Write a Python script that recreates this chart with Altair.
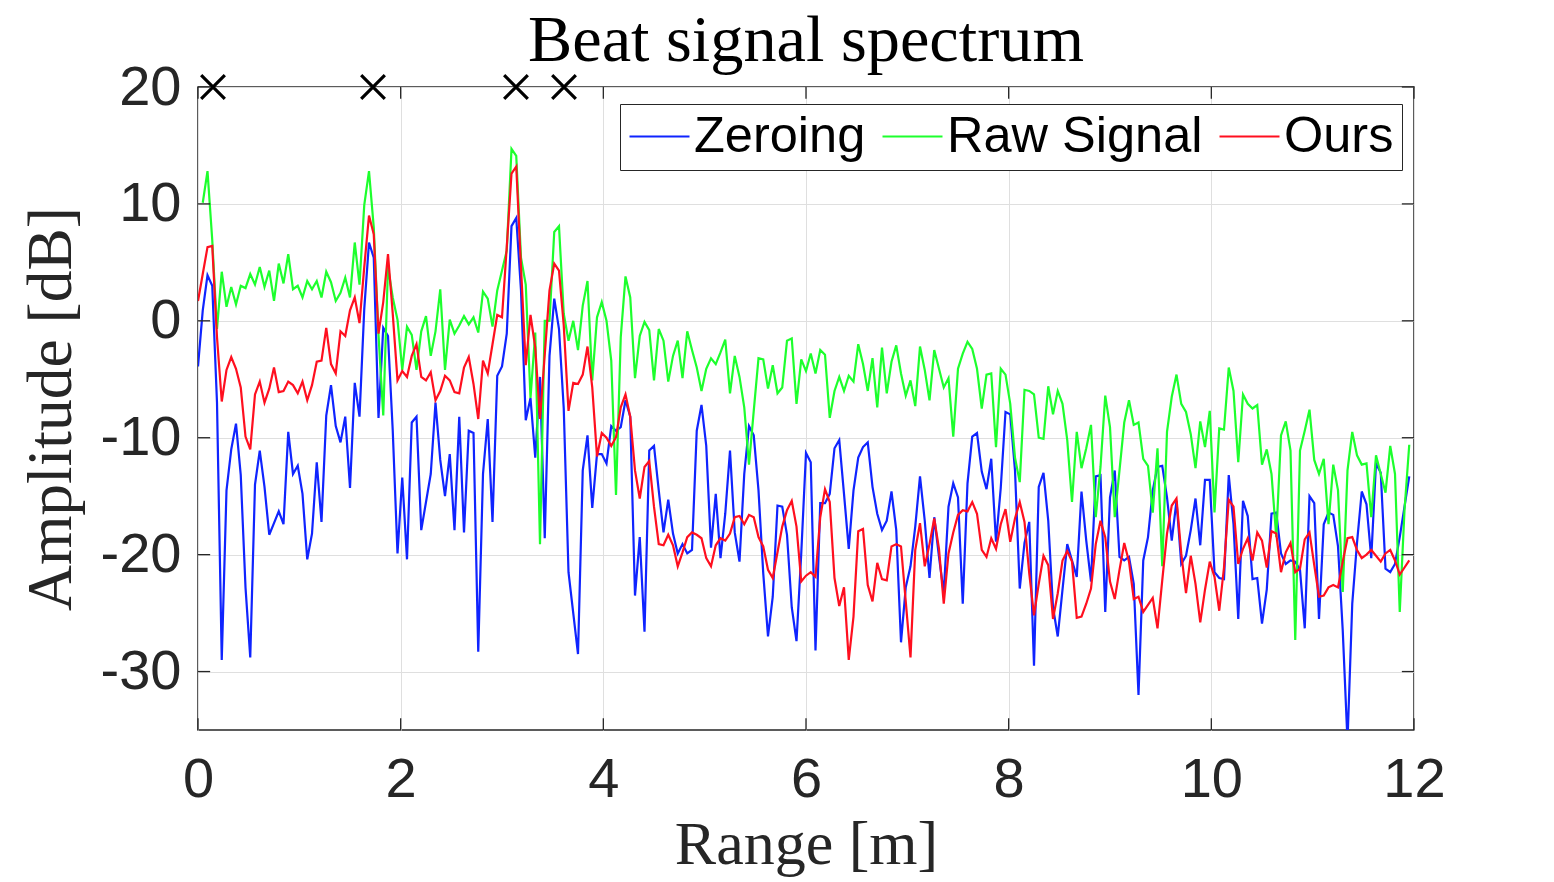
import altair as alt
import pandas as pd

zeroing = [
    -3.9, 0.9, 3.9, 3.0, -7, -29, -14.5, -11, -8.8, -13.2,
    -22.8, -28.8, -14, -11.1, -14.2, -18.3, -17.3, -16.3, -17.4, -9.5,
    -13.1, -12.4, -14.8, -20.4, -18.2, -12.1, -17.2, -8.1, -5.5, -9,
    -10.4, -8.2, -14.3, -5.3, -8.2, 1, 6.7, 5.4, -8.3, -0.6,
    -1.3, -9.4, -19.9, -13.4, -20.4, -8.7, -8.2, -17.9, -15.5, -13.1,
    -7, -11.9, -15, -11.4, -17.9, -8.2, -18.1, -9.4, -9.6, -28.3,
    -13.1, -8.4, -17.2, -4.7, -3.9, -1.1, 8.1, 8.8, 2.6, -8.5,
    -6.6, -11.7, -4.8, -18.6, -3, 1.9, -0.7, -7.5, -21.5, -25,
    -28.5, -12.8, -9.8, -16, -11.4, -11.4, -12.2, -9, -9.4, -9.1,
    -6.8, -8.2, -23.5, -18.5, -26.6, -11.1, -10.7, -14.5, -18.1, -15.3,
    -18.2, -19.9, -19.1, -19.9, -19.6, -9.4, -7.2, -10.7, -19.4, -14.8,
    -20.3, -16.5, -11.1, -18.1, -20.6, -13.1, -9, -9.8, -14.5, -21.6,
    -27, -23.6, -15.8, -15.9, -18.3, -24.5, -27.4, -19.9, -11.3, -12.1,
    -28.2, -15.6, -15.6, -14.8, -10.9, -10.2, -14.8, -19.5, -14.5, -11.7,
    -10.8, -10.4, -14.2, -16.5, -17.9, -17.1, -14.6, -17.9, -27.5, -22.8,
    -21, -17.6, -13.3, -17.1, -22, -16.8, -20.2, -23.3, -15.9, -13.9,
    -15.1, -24.2, -13.9, -9.9, -9.6, -12.9, -14.4, -11.8, -18.9, -14.3,
    -7.8, -8, -12.8, -22.9, -19, -17.2, -29.5, -14.2, -13, -17.1,
    -24.5, -27, -23, -19.1, -20.5, -21.9, -14.6, -18.8, -22.3, -13.3,
    -13.2, -24.9, -15.1, -12.8, -20.2, -20.5, -20.2, -22.5, -32, -20.5,
    -18.5, -14.5, -12.5, -12.4, -15.1, -18.8, -15.4, -20.8, -20.1, -17.9,
    -15.2, -19.2, -13.6, -13.6, -21.5, -22, -22.1, -13.2, -17.4, -25.5,
    -15.4, -16.7, -22.1, -22, -25.9, -23, -16.5, -16.4, -19.9, -20.8,
    -20.5, -20.6, -21.3, -26.3, -15, -15.6, -25.5, -17.4, -16.4, -16.6,
    -19.3, -26.5, -36, -24.2, -19, -14.6, -15.7, -20.3, -12.2, -13,
    -21.2, -21.5, -20.8, -18.5, -15.9, -13.3,
]

# first bin of the raw signal is not drawn
raw_signal = [
    None, 10.1, 12.8, 6.9, -0.7, 4.2, 1.2, 2.9, 1.4, 3,
    2.8, 4, 3.1, 4.6, 2.9, 4.3, 1.7, 4.9, 3.2, 5.7,
    2.7, 3, 2, 3.4, 2.7, 3.4, 2, 4.2, 3.3, 1.7,
    2.4, 3.7, 2, 6.7, 3.1, 9.9, 12.8, 8, -1.2, -8.1,
    4.6, 2, 0.1, -4.2, -0.5, -1.2, -4.2, -0.9, 0.4, -3,
    -0.9, 2.7, -4.2, 0.1, -1.1, -0.4, 0.4, -0.3, 0.3, -1,
    2.5, 1.9, -0.5, 2.6, 4.3, 6, 14.7, 14.1, 5.4, 3.1,
    -6.6, -1, -19.1, 0, 0, 7.6, 8.1, 0.6, -1.7, 0,
    -2.5, 1.3, 3.4, -5.1, 0.3, 1.6, 0, -3.4, -14.9, -1.4,
    3.8, 2, -4.9, -1.3, -0.1, -0.8, -5.1, -0.7, -1.7, -5.2,
    -3, -1.7, -4.9, -0.9, -2.5, -4, -6, -4.1, -3.2, -3.7,
    -2.7, -1.6, -6.2, -3, -4.8, -7.4, -12.3, -7.7, -3.2, -3.3,
    -5.8, -3.8, -6.2, -5.7, -1.7, -1.5, -7.1, -3.3, -4.3, -2.8,
    -4.5, -2.5, -2.9, -8.3, -6, -4.8, -6, -4.7, -5.2, -2,
    -3.7, -6, -3.2, -7.4, -2.3, -6.2, -3.5, -2.1, -4.5, -6.4,
    -5.1, -7.3, -2.2, -4.2, -6.8, -2.5, -4.1, -5.7, -4.9, -9.9,
    -4.1, -2.8, -1.8, -2.4, -4.1, -7.5, -4.6, -4.5, -10.8, -4.1,
    -4.6, -7.1, -11.7, -13.8, -5.9, -6, -6.3, -10, -10.1, -5.6,
    -8, -6, -7.1, -10.2, -15.5, -9.5, -12.6, -10.9, -8.9, -16.8,
    -12.5, -6.4, -9.1, -16.8, -12.8, -8.7, -6.8, -8.9, -8.7, -11.8,
    -12.4, -16.4, -10.9, -21, -9.5, -6.5, -4.6, -7.1, -7.8, -9.7,
    -12.6, -8.6, -10.8, -7.7, -16.4, -9.2, -9.3, -4, -6, -12.1,
    -6.3, -7.1, -7.5, -7.2, -12.3, -11, -13.1, -18.5, -9.8, -8.6,
    -11.1, -27.3, -11.1, -9.4, -7.6, -11.9, -13.1, -11.8, -17.4, -12.3,
    -14.5, -23.2, -12.8, -9.5, -11.5, -12.3, -12.2, -16.8, -11.5, -13.1,
    -14.7, -10.7, -13.1, -24.9, -16.2, -10.6,
]

ours = [
    1.7, 4, 6.3, 6.4, -1.4, -6.9, -4.2, -3.1, -4.1, -5.7,
    -9.9, -11, -6.3, -5.2, -7, -5.8, -4, -6.1, -6, -5.2,
    -5.5, -6.2, -5.2, -6.8, -5.5, -3.5, -3.4, -0.6, -3.7, -4.5,
    -0.9, -1.3, 0.9, 2, -0.2, 4.6, 9, 7.4, -1.1, 1.6,
    5.7, 0.6, -5.1, -4.3, -4.8, -3, -2, -4.8, -5.1, -4.4,
    -6.8, -6, -4.7, -5.1, -6.1, -6.2, -4, -3.1, -5.4, -8.4,
    -3.4, -4.5, -2, 0.5, 0.3, 6.3, 12.6, 13.2, 4.6, -3.8,
    0.5, -2.3, -8.4, -2.9, 2.6, 4.9, 4.3, -0.4, -7.7, -5.3,
    -5.4, -4.6, -2.2, -5.7, -11.6, -9.6, -10, -10.7, -9.95, -7.4,
    -6.3, -8.2, -12.8, -15.2, -12.5, -12, -15.9, -19.1, -19.2, -18.3,
    -19.2, -21, -19.8, -18.5, -18.1, -18.3, -18.6, -20.3, -21, -19.2,
    -18.6, -18.8, -18.2, -16.8, -16.7, -17.4, -16.6, -16.8, -18.5, -19.3,
    -21.3, -22, -19.8, -17.6, -16.2, -15.4, -17.6, -22.3, -21.8, -21.5,
    -21.9, -16.8, -14.4, -15.5, -22, -24.4, -22.8, -29, -25.3, -18,
    -17.8, -22.6, -24, -20.7, -22.1, -22.2, -19.3, -19.1, -19.3, -24,
    -28.8, -19.6, -17.3, -21, -19.1, -16.9, -19.5, -24.2, -19.9, -18.1,
    -16.6, -16.2, -16.3, -15.5, -16.5, -19.6, -20.2, -18.6, -19.5, -17.4,
    -16.1, -18.9, -16.9, -15.5, -17.2, -21.6, -25.2, -22.5, -20.1, -20.9,
    -25.5, -23.3, -20.5, -19.7, -20.6, -25.4, -25.3, -24.2, -22.9, -19.1,
    -17.1, -18.5, -22.3, -23.8, -21.3, -19, -20.6, -23.8, -23.6, -24.9,
    -24.3, -23.7, -26.3, -22.2, -18.2, -15.8, -15.2, -19.9, -23.3, -20.1,
    -22.5, -25.8, -23, -20.6, -21.9, -24.8, -21.1, -15.3, -15.9, -20.8,
    -19.5, -18.6, -20.5, -18.1, -18.8, -21.1, -18, -18.2, -21.5, -19.8,
    -19, -21.5, -21.2, -18.7, -18.1, -20.9, -23.6, -23.5, -22.8, -22.6,
    -22.8, -20.6, -18.6, -18.5, -19.6, -20.3, -20, -19.6, -20.1, -20.6,
    -19.9, -19.6, -20.5, -21.7, -21.1, -20.5,
]

range_bins = [i * 12 / 256 for i in range(256)]
marker_ranges = [0.148, 1.727, 3.138, 3.612]
series_names = ['Zeroing', 'Raw Signal', 'Ours']
series_colors = ['#0f24ff', '#1dff2d', '#ff0f1f']
x_ticks = [0, 2, 4, 6, 8, 10, 12]
y_ticks = [-30, -20, -10, 0, 10, 20]

frames = []
for name, values in zip(series_names, [zeroing, raw_signal, ours]):
    frames.append(pd.DataFrame({'range': range_bins, 'amp': values, 'series': name}))
df = pd.concat(frames).dropna()

x_scale = alt.Scale(domain=[0, 12], nice=False, zero=False)
y_scale = alt.Scale(domain=[-35, 20], nice=False, zero=False)

sans = 'Liberation Sans'
serif = 'Liberation Serif'
ink = '#262626'

lines = alt.Chart(df).mark_line(strokeWidth=2.2, clip=True).encode(
    alt.X('range:Q', scale=x_scale,
          axis=alt.Axis(values=x_ticks, title='Range [m]', domain=False, ticks=False,
                        grid=True, gridColor='#dfdfdf', gridWidth=1,
                        labelFont=sans, labelFontSize=56, labelColor=ink, labelPadding=22,
                        labelExpr="'' + datum.value", labelFlush=False, labelOverlap=False,
                        titleFont=serif, titleFontSize=62, titleFontWeight='normal',
                        titleColor=ink, titlePadding=7)),
    alt.Y('amp:Q', scale=y_scale,
          axis=alt.Axis(values=y_ticks, title='Amplitude [dB]', domain=False, ticks=False,
                        grid=True, gridColor='#dfdfdf', gridWidth=1,
                        labelFont=sans, labelFontSize=56, labelColor=ink, labelPadding=17,
                        labelExpr="'' + datum.value", labelOverlap=False, labelFlush=False,
                        titleFont=serif, titleFontSize=63.5, titleFontWeight='normal',
                        titleColor=ink, titlePadding=17)),
    alt.Color('series:N', sort=series_names,
              scale=alt.Scale(domain=series_names, range=series_colors),
              legend=alt.Legend(orient='none', legendX=422, legendY=17, direction='horizontal',
                                columns=3, title=None, fillColor='white', strokeColor=ink,
                                padding=8, symbolType='stroke', symbolSize=3600,
                                symbolStrokeWidth=2.2, labelFont=sans, labelFontSize=50.5,
                                labelColor='black', labelOffset=3, columnPadding=15,
                                clipHeight=49, labelLimit=400, rowPadding=0)),
)

# MATLAB style inward ticks on all four sides
tick_color = ink
bottom = alt.Chart(pd.DataFrame({'x': x_ticks, 'y': -35, 'y2': -34})).mark_rule(color=tick_color, strokeWidth=1.3).encode(
    alt.X('x:Q', scale=x_scale), alt.Y('y:Q', scale=y_scale), y2='y2:Q')
top = alt.Chart(pd.DataFrame({'x': x_ticks, 'y': 20, 'y2': 19})).mark_rule(color=tick_color, strokeWidth=1.3).encode(
    alt.X('x:Q', scale=x_scale), alt.Y('y:Q', scale=y_scale), y2='y2:Q')
left = alt.Chart(pd.DataFrame({'y': y_ticks, 'x': 0, 'x2': 0.12})).mark_rule(color=tick_color, strokeWidth=1.3).encode(
    alt.Y('y:Q', scale=y_scale), alt.X('x:Q', scale=x_scale), x2='x2:Q')
right = alt.Chart(pd.DataFrame({'y': y_ticks, 'x': 12, 'x2': 11.88})).mark_rule(color=tick_color, strokeWidth=1.3).encode(
    alt.Y('y:Q', scale=y_scale), alt.X('x:Q', scale=x_scale), x2='x2:Q')

markers = alt.Chart(pd.DataFrame({'x': marker_ranges, 'y': 20})).mark_point(
    shape='M-1,-1L1,1M-1,1L1,-1', filled=False, color='black', strokeWidth=3.2, size=560, opacity=1
).encode(alt.X('x:Q', scale=x_scale), alt.Y('y:Q', scale=y_scale))

chart = alt.layer(lines, bottom, top, left, right, markers).properties(
    width=1216,
    height=643,
    autosize=alt.AutoSizeParams(type='none'),
    padding={'left': 190, 'top': 79, 'right': 132, 'bottom': 147},
    title=alt.Title('Beat signal spectrum', font=serif, fontSize=66.3, fontWeight='normal',
                    color='black', anchor='middle', offset=-16),
    background='white',
).configure_view(stroke=ink, strokeWidth=1.5)

chart.save('out.html', embed_options={'renderer': 'svg', 'actions': False})
